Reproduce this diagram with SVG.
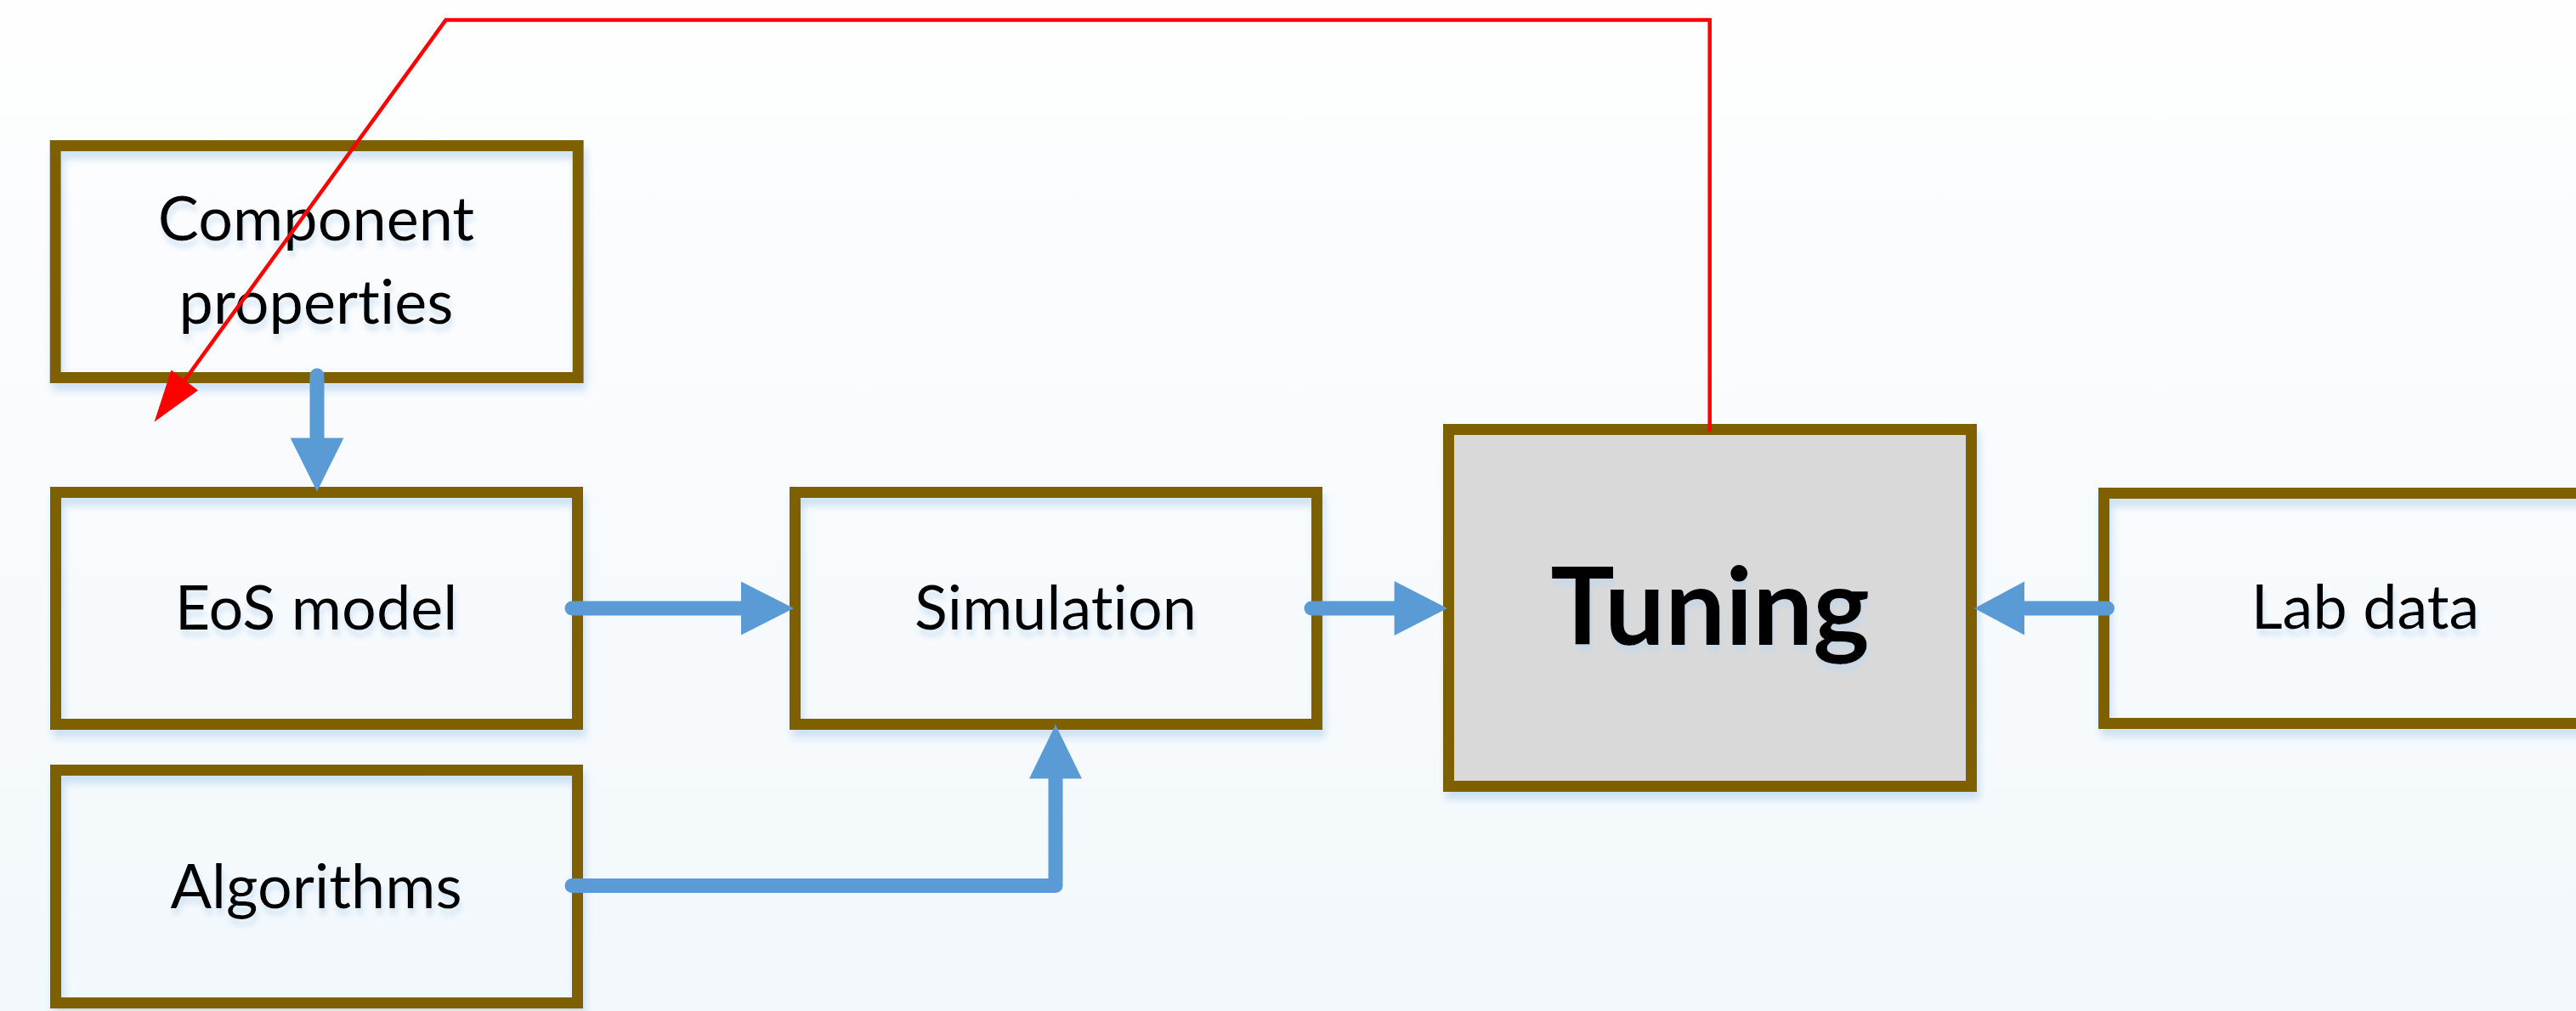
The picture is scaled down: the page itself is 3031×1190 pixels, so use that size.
<svg xmlns="http://www.w3.org/2000/svg" width="3031" height="1190" viewBox="0 0 3031 1190">
  <defs>
    <linearGradient id="bg" x1="0" y1="0" x2="0" y2="1">
      <stop offset="0" stop-color="#fefefe"/>
      <stop offset="1" stop-color="#f2f8fc"/>
    </linearGradient>
    <!-- soft blue shadow cast by the frames -->
    <filter id="frameShadow" x="-5%" y="-5%" width="110%" height="120%">
      <feGaussianBlur in="SourceAlpha" stdDeviation="5"/>
      <feOffset dx="3" dy="9" result="b"/>
      <feFlood flood-color="#bdd7ee" flood-opacity="0.75"/>
      <feComposite in2="b" operator="in"/>
      <feMerge><feMergeNode/><feMergeNode in="SourceGraphic"/></feMerge>
    </filter>
    <!-- faint glow under the labels -->
    <filter id="textShadow" x="-5%" y="-20%" width="110%" height="160%">
      <feGaussianBlur in="SourceAlpha" stdDeviation="3"/>
      <feOffset dx="2" dy="8" result="b"/>
      <feFlood flood-color="#bdd7ee" flood-opacity="0.6"/>
      <feComposite in2="b" operator="in"/>
      <feMerge><feMergeNode/><feMergeNode in="SourceGraphic"/></feMerge>
    </filter>
  </defs>
  <style>
    .frame { fill: none; stroke: #7f6000; stroke-width: 13; filter: url(#frameShadow); }
    .label { font-family: Lato, "Open Sans", "Liberation Sans", sans-serif; font-size: 72px; fill: #000; text-anchor: middle; filter: url(#textShadow); font-variant-ligatures: none; font-feature-settings: "liga" 0, "clig" 0; }
    .big { font-size: 126px; font-weight: bold; }
    .flow { fill: none; stroke: #5b9bd5; stroke-width: 17; stroke-linecap: round; stroke-linejoin: round; }
    .flowHead { fill: #5b9bd5; }
    .feedback { fill: none; stroke: #ff0000; stroke-width: 4.5; stroke-linejoin: miter; }
    .feedbackHead { fill: #ff0000; }
  </style>

  <rect x="0" y="0" width="3031" height="1190" fill="url(#bg)"/>

  <g id="component-properties">
    <rect class="frame" x="65.2" y="171.5" width="615" height="273"/>
    <text class="label" x="372" y="283">Component</text>
    <text class="label" x="372" y="381">properties</text>
  </g>

  <g id="eos-model">
    <rect class="frame" x="65.5" y="579.5" width="614" height="273"/>
    <text class="label" x="372" y="741">EoS model</text>
  </g>

  <g id="algorithms">
    <rect class="frame" x="65.5" y="906.5" width="614" height="274"/>
    <text class="label" x="372" y="1069">Algorithms</text>
  </g>

  <g id="simulation">
    <rect class="frame" x="935.5" y="579.5" width="614" height="273"/>
    <text class="label" x="1242" y="741">Simulation</text>
  </g>

  <g id="tuning">
    <rect class="frame" x="1704.5" y="505.5" width="615" height="420" style="fill:#d9d9d9"/>
    <text class="label big" x="2012" y="759">Tuning</text>
  </g>

  <g id="lab-data">
    <rect class="frame" x="2475.5" y="580.5" width="615" height="271"/>
    <text class="label" x="2783" y="740">Lab data</text>
  </g>

  <g id="connectors">
    <!-- Component properties -> EoS model -->
    <line class="flow" x1="373" y1="442" x2="373" y2="516"/>
    <polygon class="flowHead" points="341.6,515.5 404.4,515.5 373,578.6"/>
    <!-- EoS model -> Simulation -->
    <line class="flow" x1="673" y1="716" x2="873" y2="716"/>
    <polygon class="flowHead" points="872,684.4 872,747.6 934,716"/>
    <!-- Algorithms -> Simulation -->
    <polyline class="flow" points="673,1042.6 1242,1042.6 1242,917"/>
    <polygon class="flowHead" points="1211,916.5 1273,916.5 1242,853"/>
    <!-- Simulation -> Tuning -->
    <line class="flow" x1="1543" y1="716" x2="1641" y2="716"/>
    <polygon class="flowHead" points="1640.6,684 1640.6,748 1703,716"/>
    <!-- Lab data -> Tuning -->
    <line class="flow" x1="2479.5" y1="716" x2="2383" y2="716"/>
    <polygon class="flowHead" points="2382,684.4 2382,747.6 2323,716"/>
    <!-- Tuning feedback -> component properties -->
    <polyline class="feedback" points="2011.7,508 2011.7,23.6 524.5,23.6 217,448"/>
    <polygon class="feedbackHead" points="201.5,435.5 233,459.6 181.6,496.4"/>
  </g>
</svg>
